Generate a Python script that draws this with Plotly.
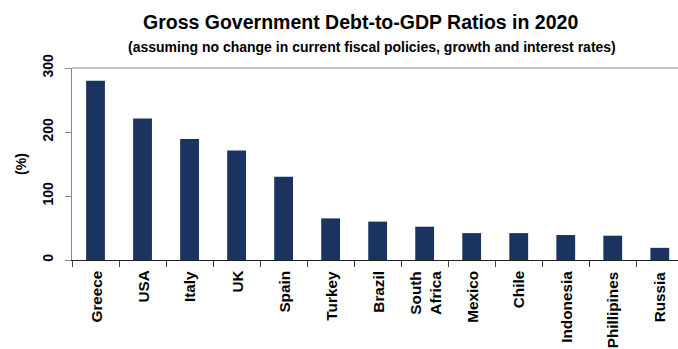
import plotly.graph_objects as go

countries = ["Greece", "USA", "Italy", "UK", "Spain", "Turkey", "Brazil",
             "South<br>Africa", "Mexico", "Chile", "Indonesia", "Phillipines", "Russia"]
debt_ratio = [280, 221, 189, 171, 130, 65, 60, 52, 42, 42, 39, 38, 19]
y_ticks = [0, 100, 200, 300]

BAR = "#1b335f"
FONT = "Liberation Sans, Arial, sans-serif"

idx = list(range(len(countries)))
fig = go.Figure(go.Bar(x=idx, y=debt_ratio, marker=dict(color=BAR, line=dict(width=0)),
                       width=0.4))

fig.update_layout(
    width=678, height=349,
    margin=dict(l=72, r=0, t=68, b=89),
    paper_bgcolor="white", plot_bgcolor="white",
    showlegend=False,
    font=dict(family=FONT, color="black"),
)
fig.update_xaxes(
    range=[-0.5, 12.5 - 5.3 / 47],
    showline=True, linecolor="#222222", linewidth=1,
    ticks="outside", ticklen=6, tickcolor="#444444",
    tickmode="array", tickvals=[i - 0.5 for i in range(len(countries) + 1)],
    ticktext=[""] * (len(countries) + 1),
    showgrid=False, zeroline=False,
)
fig.update_yaxes(
    range=[0, 300], tickvals=y_ticks,
    showline=True, linecolor="#888888", linewidth=1,
    ticks="outside", ticklen=6, tickcolor="#888888",
    showgrid=False, zeroline=False, tickangle=-90, ticklabelstandoff=6,
    tickfont=dict(family=FONT, size=14, weight="bold", color="black"),
    title=dict(text="(%)", font=dict(family=FONT, size=14, weight="bold"), standoff=10),
)
fig.add_shape(type="line", xref="paper", yref="paper", x0=0, x1=1, y0=1, y1=1,
              line=dict(color="#888888", width=1))

for i, name in enumerate(countries):
    fig.add_annotation(text=name, x=i, xref="x", y=0, yref="paper", yshift=-10,
                       xanchor="center", yanchor="top", textangle=-90, align="right",
                       showarrow=False, borderpad=0,
                       font=dict(family=FONT, size=15.3, weight="bold", color="black"))

fig.add_annotation(text="Gross Government Debt-to-GDP Ratios in 2020",
                   xref="paper", yref="paper", x=(360 - 72) / 606, y=1 + (68 - 22) / 192,
                   xanchor="center", yanchor="middle", showarrow=False,
                   font=dict(family=FONT, size=19.5, weight="bold", color="black"))
fig.add_annotation(text="(assuming no change in current fiscal policies, growth and interest rates)",
                   xref="paper", yref="paper", x=(372 - 72) / 606, y=1 + (68 - 47) / 192,
                   xanchor="center", yanchor="middle", showarrow=False,
                   font=dict(family=FONT, size=14, weight="bold", color="black"))

fig.write_html("out.html")
